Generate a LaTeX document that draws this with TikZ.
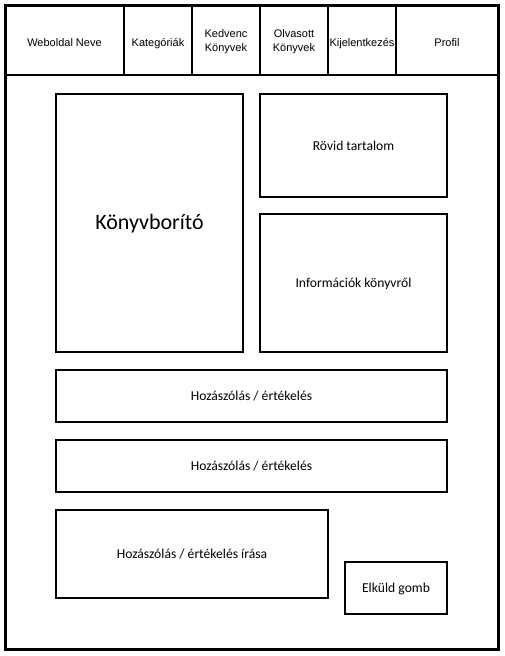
\documentclass[tikz,border=0pt]{standalone}
\usepackage{fontspec}
\setmainfont{Carlito}
\newfontfamily\menufont{Liberation Sans}
\tikzset{
	page/.style={draw,line width=3pt,inner sep=0pt,minimum width=493pt,minimum height=644pt},
	menu item/.style={draw,line width=2pt,inner sep=0pt,align=center,minimum height=70pt,
		text height=14pt,text depth=2pt,font=\menufont\fontsize{11}{14}\selectfont},
	two lines/.style={text height=24pt,text depth=2pt},
	panel/.style={draw,line width=2pt,inner sep=0pt,align=center,
		text height=12pt,text depth=2.6pt,font=\fontsize{13.6}{16}\selectfont}
}

\begin{document}
\begin{tikzpicture}[x=1pt,y=-1pt]
	\useasboundingbox (0,0) rectangle (505,656);

	\node[page] (page) at (251.5,327) {};

	% header
	\node[menu item,minimum width=119pt] (name) at (64.5,40) {Weboldal Neve};
	\node[menu item,minimum width=68pt] (cat) at (158,40) {Kategóriák};
	\node[menu item,two lines,minimum width=68pt] (fav) at (226,40) {Kedvenc\\Könyvek};
	\node[menu item,two lines,minimum width=68pt] (read) at (294,40) {Olvasott\\Könyvek};
	\node[menu item,minimum width=68pt] (logout) at (362,40) {Kijelentkezés};
	\node[menu item,minimum width=102pt] (profile) at (447,40) {Profil};

	% content
	\node[panel,minimum width=187pt,minimum height=258pt,text height=17pt,text depth=4.4pt,
		font=\fontsize{22}{26}\selectfont] (cover) at (149.5,223) {Könyvborító};
	\node[panel,minimum width=187pt,minimum height=103pt] (summary) at (353.5,145.5) {Rövid tartalom};
	\node[panel,minimum width=187pt,minimum height=138pt] (info) at (353.5,283) {Információk könyvről};
	\node[panel,minimum width=391pt,minimum height=52pt] (comment1) at (251.5,396) {Hozászólás / értékelés};
	\node[panel,minimum width=391pt,minimum height=52pt] (comment2) at (251.5,466) {Hozászólás / értékelés};
	\node[panel,minimum width=272pt,minimum height=88pt] (write) at (192,554) {Hozászólás / értékelés írása};
	\node[panel,minimum width=102pt,minimum height=52pt] (send) at (396,588) {Elküld gomb};
\end{tikzpicture}
\end{document}
